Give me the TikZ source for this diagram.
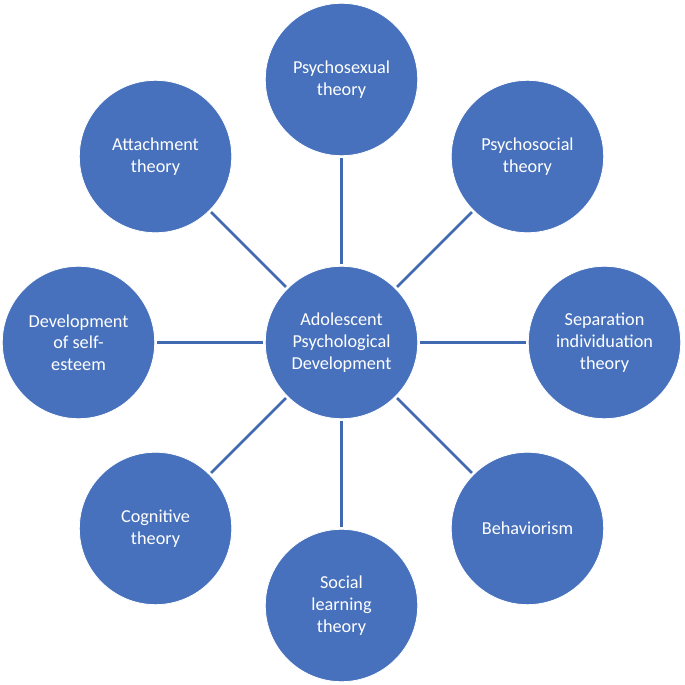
\documentclass[tikz,border=0pt]{standalone}
\usepackage{fontspec}
\setmainfont{Carlito}
\definecolor{theoryblue}{HTML}{4771BC}
\definecolor{linkblue}{HTML}{4169B2}
\tikzset{
  theory/.style = {circle, fill = theoryblue, draw = white, line width = 0.8, minimum size = 153, inner sep = 0, align = center, text = white, font = \fontsize{18.3}{21.8}\selectfont},
  link/.style = {draw = linkblue, line width = 2.8, shorten < = 2, shorten > = 2}
}
\begin{document}
\begin{tikzpicture}[x = 1bp, y = 1bp]
\pgfmathsetmacro\radius{263}
\useasboundingbox (0,0) rectangle (685,685);
\node[theory] (hub) at (341.5,342.5) {Adolescent\\Psychological\\Development};
\foreach \a/\name/\txt in {90/sexual/{Psychosexual\\theory}, 45/psychosocial/{Psychosocial\\theory}, 0/separation/{Separation\\individuation\\theory}, -45/behavior/{Behaviorism}, -90/learning/{Social\\learning\\theory}, -135/cognitive/{Cognitive\\theory}, 180/esteem/{Development\\of self-\\esteem}, 135/attach/{Attachment\\theory}}
{
  \node[theory] (\name) at ([shift = {(\a:\radius)}]hub.center) {\txt};
  \draw[link] (hub) -- (\name);
}
\end{tikzpicture}
\end{document}
